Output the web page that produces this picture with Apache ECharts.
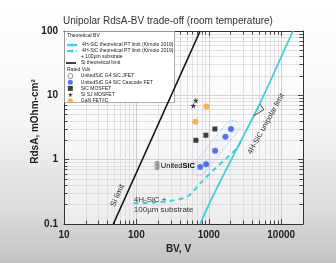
<!DOCTYPE html>
<html><head><meta charset="utf-8">
<script src="https://cdn.jsdelivr.net/npm/echarts@6/dist/echarts.min.js"></script>
<style>html,body{margin:0;padding:0;background:#fff}#c{width:336px;height:263px}</style>
</head><body><div id="c"></div><script>
// ---- data ----
const titleText = 'Unipolar RdsA-BV trade-off (room temperature)';
const xTicks = [10, 100, 1000, 10000];
const yTicks = [0.1, 1, 10, 100];
const xMinor = [20,30,40,50,60,70,80,90,200,300,400,500,600,700,800,900,2000,3000,4000,5000,6000,7000,8000,9000];
const yMinor = [0.2,0.3,0.4,0.5,0.6,0.7,0.8,0.9,2,3,4,5,6,7,8,9,20,30,40,50,60,70,80,90];

const siLimit = [[48, 0.1], [760, 100]];
const sicUnipolar = [[760, 0.1], [1100, 0.25], [2400, 1.43], [5000, 7.2], [14500, 100]];
const sicSubstrate = [[92, 0.21], [174, 0.216], [300, 0.23], [513, 0.27], [777, 0.44], [1180, 0.70], [1840, 1.11], [2530, 1.59], [2900, 2.2]];
const jfet = [];
const cascode = [[760, 0.77], [918, 0.85], [1222, 1.37], [1698, 2.27], [2024, 3.0]];
const sicMosfet = [[663, 2.0], [912, 2.4], [1214, 3.0]];
const siSJ = [[663, 8.3], [612, 6.9]];
const gan = [[926, 6.7], [652, 3.9]];
const arrowPath = [[5150, 7.25], [5740, 5.96], [4170, 4.81]];

// annotation anchors (data space)
const siLabelAt = [55, 0.277];
const unipolarLabelAt = [6180, 3.6];
const substrateLabelAt = [92, 0.2];
const logoAt = [174, 0.81];

const names = {
  uni: '4H-SiC theoretical PT limit (Kimoto 2019)',
  sub: '4H-SiC theoretical PT limit (Kimoto 2019) + 100µm substrate',
  si: 'Si theoretical limit',
  jfet: 'UnitedSiC G4 SiC JFET',
  cas: 'UnitedSiC G4 SiC Cascode FET',
  mos: 'SiC MOSFET',
  sj: 'Si SJ MOSFET',
  gan: 'GaN FET/IC'
};

const CYAN = '#3fcfdc';
const FONT = '"Liberation Sans", Arial, sans-serif';
const STAR = 'path://M50,0 L61,35 L98,35 L68,57 L79,91 L50,70 L21,91 L32,57 L2,35 L39,35 Z';

const chart = echarts.init(document.getElementById('c'), null, {renderer: 'canvas'});

function isMajor(v) { const l = Math.log10(v); return Math.abs(l - Math.round(l)) < 1e-6; }
function fmt(v) { return isMajor(v) ? String(+v.toPrecision(6)) : ''; }

const X_EXT = {min: 10, max: 20000};
const Y_EXT = {min: 0.1, max: 100};
const AX = {color: '#333', width: 1};

function mainAxis(ext, pos, extra) {
  return Object.assign({
    type: 'log', logBase: 10, position: pos,
    axisLine: {show: true, lineStyle: AX},
    axisTick: {show: true, inside: true, length: 5, lineStyle: {color: '#333', width: 0.9}},
    axisLabel: {show: false},
    splitLine: {show: false}
  }, ext, extra);
}
function minorAxis(ext, pos, vals, grid) {
  return Object.assign({
    type: 'log', logBase: 10, position: pos,
    axisLine: {show: false},
    axisTick: {show: true, inside: true, length: 3.5, customValues: vals, lineStyle: {color: '#333', width: 0.9}},
    axisLabel: {show: false},
    splitLine: {show: grid, lineStyle: {color: '#d9d9d9', width: 0.8}}
  }, ext);
}

const legendText = {fontSize: 5, lineHeight: 6, color: '#222', fontFamily: FONT};
const labelStyle = {fontSize: 10, fontWeight: 'bold', color: '#222', fontFamily: FONT, margin: 6, formatter: fmt};

const option = {
  animation: false,
  backgroundColor: {
    type: 'linear', x: 0, y: 0, x2: 0, y2: 1,
    colorStops: [{offset: 0, color: '#ffffff'}, {offset: 0.45, color: '#f6f6f6'}, {offset: 0.8, color: '#dcdcdc'}, {offset: 1, color: '#c2c2c2'}]
  },
  title: {text: titleText, left: 'center', top: 16, padding: 0, textStyle: {fontSize: 10, fontWeight: 'normal', color: '#333', fontFamily: FONT}},
  grid: {left: 64, right: 33, top: 31, bottom: 39, show: true, backgroundColor: 'rgba(255,255,255,0.55)', borderWidth: 0},
  xAxis: [
    mainAxis(X_EXT, 'bottom', {
      name: 'BV, V', nameLocation: 'middle', nameGap: 20, nameMoveOverlap: false,
      nameTextStyle: {fontSize: 10, fontWeight: 'bold', color: '#222', fontFamily: FONT, padding: [0, 10, 0, 0]},
      axisLabel: Object.assign({showMaxLabel: false}, labelStyle),
      splitLine: {show: true, lineStyle: {color: '#c4c4c4', width: 0.8}}
    }),
    mainAxis(X_EXT, 'top', {}),
    minorAxis(X_EXT, 'bottom', xMinor, true),
    minorAxis(X_EXT, 'top', xMinor, false)
  ],
  yAxis: [
    mainAxis(Y_EXT, 'left', {
      name: 'RdsA, mOhm-cm²', nameLocation: 'middle', nameGap: 24, nameMoveOverlap: false,
      nameTextStyle: {fontSize: 10, fontWeight: 'bold', color: '#222', fontFamily: FONT, padding: [0, 0, 0, 12]},
      axisLabel: labelStyle,
      splitLine: {show: true, lineStyle: {color: '#c4c4c4', width: 0.8}}
    }),
    mainAxis(Y_EXT, 'right', {}),
    minorAxis(Y_EXT, 'left', yMinor, true),
    minorAxis(Y_EXT, 'right', yMinor, false)
  ],
  legend: [
    {left: 66, top: 42, orient: 'vertical', padding: 0, itemGap: 0, itemWidth: 10, itemHeight: 4,
     textStyle: legendText, data: [names.uni, names.sub],
     formatter: n => n.replace(' + 100µm substrate', ''), lineStyle: {width: 2.2}},
    {left: 66, top: 60, orient: 'vertical', padding: 0, itemGap: 0, itemWidth: 10, itemHeight: 1.6,
     textStyle: legendText, data: [{name: names.si, icon: 'rect', itemStyle: {color: '#111'}}]},
    {left: 67.5, top: 73, orient: 'vertical', padding: 0, itemGap: 0.2, itemWidth: 5, itemHeight: 5,
     textStyle: Object.assign({}, legendText, {padding: [0, 0, 0, 3]}),
     data: [
       {name: names.jfet, icon: 'circle', itemStyle: {color: '#fff', borderColor: '#444', borderWidth: 0.7}},
       {name: names.cas, icon: 'circle', itemStyle: {color: '#2b50e6', borderWidth: 0}},
       {name: names.mos, icon: 'rect', itemStyle: {color: '#111'}},
       {name: names.sj, icon: STAR, itemStyle: {color: '#111'}},
       {name: names.gan, icon: 'circle', itemStyle: {color: '#f2a33a'}}
     ]}
  ],
  series: [
    {type: 'line', name: names.si, data: siLimit, symbol: 'none', lineStyle: {color: '#111', width: 1.6}, itemStyle: {color: '#111'}, z: 3},
    {type: 'line', name: names.uni, data: sicUnipolar, symbol: 'none', smooth: 0.3, lineStyle: {color: CYAN, width: 1.8}, itemStyle: {color: CYAN}, z: 3},
    {type: 'line', name: names.sub, data: sicSubstrate, symbol: 'none', smooth: 0.3, lineStyle: {color: CYAN, width: 2, type: [5, 4]}, itemStyle: {color: CYAN}, z: 3},
    {type: 'line', name: 'arrows', data: arrowPath, symbol: 'none', lineStyle: {color: '#222', width: 0.8}, z: 3},
    {type: 'scatter', name: names.jfet, data: jfet, symbol: 'circle', symbolSize: 5, itemStyle: {color: '#fff', borderColor: '#444', borderWidth: 0.7}, z: 4},
    {type: 'scatter', name: names.cas, data: cascode, symbol: 'circle', symbolSize: 6, itemStyle: {color: '#2b50e6', borderColor: 'rgba(150,175,255,0.5)', borderWidth: 1}, z: 4},
    {type: 'scatter', name: names.mos, data: sicMosfet, symbol: 'rect', symbolSize: 5, itemStyle: {color: '#111'}, z: 4},
    {type: 'scatter', name: names.sj, data: siSJ, symbol: STAR, symbolSize: 6, itemStyle: {color: '#111'}, z: 4},
    {type: 'scatter', name: names.gan, data: gan, symbol: 'circle', symbolSize: 6, itemStyle: {color: '#f2a33a'}, z: 4}
  ]
};
chart.setOption(option);

function px(p) { return chart.convertToPixel({xAxisIndex: 0, yAxisIndex: 0}, p); }
const a = px(cascode[0]), b = px(cascode[cascode.length - 1]);
const cx = (a[0] + b[0]) / 2, cy = (a[1] + b[1]) / 2;
const len = Math.hypot(b[0] - a[0], b[1] - a[1]) + 18, wid = 14;
const ang = Math.atan2(-(b[1] - a[1]), b[0] - a[0]);
const si = px(siLabelAt), uni = px(unipolarLabelAt), sub = px(substrateLabelAt), logo = px(logoAt);

chart.setOption({graphic: [
  {type: 'rect', shape: {x: 64.5, y: 31.5, width: 110, height: 71}, style: {fill: '#fff', stroke: '#999', lineWidth: 0.8}, z: 3},
  {type: 'text', x: 67, y: 35.5, style: {text: 'Theoretical BV', font: '5px ' + FONT, fill: '#222', verticalAlign: 'middle'}, z: 5},
  {type: 'text', x: 81, y: 57, style: {text: '+ 100µm substrate', font: '5px ' + FONT, fill: '#222', verticalAlign: 'middle'}, z: 5},
  {type: 'text', x: 67, y: 69.5, style: {text: 'Rated Vds', font: '5px ' + FONT, fill: '#222', verticalAlign: 'middle'}, z: 5},
  {type: 'rect', x: cx, y: cy, rotation: ang, shape: {x: -len / 2, y: -wid / 2, width: len, height: wid, r: wid / 2},
   style: {fill: 'rgba(180,205,255,0.08)', stroke: '#8fb3ee', lineWidth: 0.8, lineDash: [1.2, 1.6]}, z: 3},
  {type: 'text', x: si[0], y: si[1], rotation: 65.8 * Math.PI / 180, style: {text: 'Si limit', font: '8px ' + FONT, fill: '#333', align: 'center', verticalAlign: 'middle'}, z: 5},
  {type: 'text', x: uni[0], y: uni[1], rotation: 61 * Math.PI / 180, style: {text: '4H-SiC unipolar limit', font: '7.5px ' + FONT, fill: '#333', align: 'center', verticalAlign: 'middle'}, z: 5},
  {type: 'text', x: sub[0], y: sub[1], style: {text: '4H-SiC +\n100µm substrate', font: '8px ' + FONT, lineHeight: 10, fill: '#333', align: 'left', verticalAlign: 'middle'}, z: 5},
  {type: 'rect', x: logo[0], y: logo[1] - 4.5, shape: {x: 0, y: 0, width: 6, height: 9, r: 2},
   style: {fill: {type: 'linear', x: 0, y: 0, x2: 1, y2: 0, colorStops: [{offset: 0, color: '#d8d8d8'}, {offset: 0.6, color: '#8c8c8c'}, {offset: 1, color: '#bdbdbd'}]}}, z: 5},
  {type: 'text', x: logo[0] + 7, y: logo[1], style: {text: '{u|United}{s|SiC}', verticalAlign: 'middle',
   rich: {u: {fontSize: 7.5, fontFamily: FONT, color: '#8a8a8a'}, s: {fontSize: 7.5, fontFamily: FONT, fontWeight: 'bold', color: '#2c3d6e'}}}, z: 5}
]});
</script></body></html>
